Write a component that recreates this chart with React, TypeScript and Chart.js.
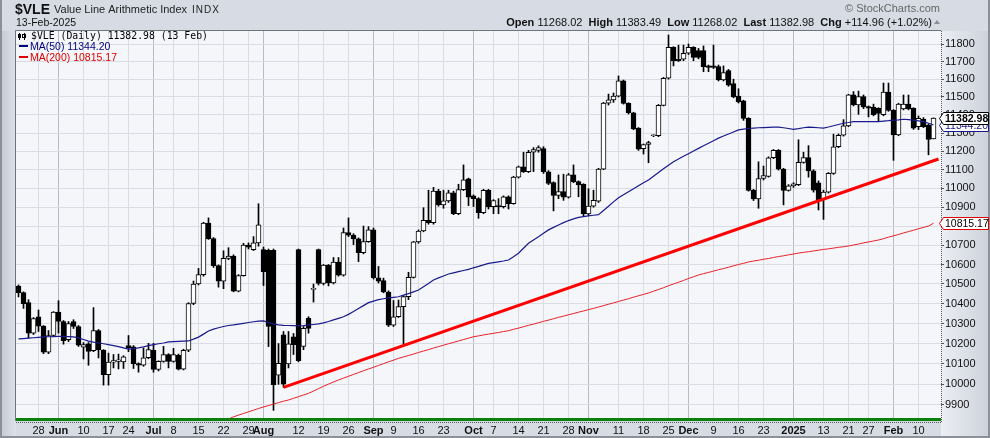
import React, { useEffect, useRef } from 'react';
import { Chart, registerables } from 'chart.js';

Chart.register(...registerables);

// ---------- calendar / categories ----------
const START_DATE = '2024-05-21';
const END_DATE = '2025-02-13';
const HOLIDAYS = ['2024-05-27', '2024-06-19', '2024-07-04', '2024-09-02', '2024-11-28', '2024-12-25', '2025-01-01', '2025-01-09', '2025-01-20'];

const TICK_DATES = ['2024-05-28', '2024-06-03', '2024-06-10', '2024-06-17', '2024-06-24', '2024-07-01', '2024-07-08', '2024-07-15', '2024-07-22', '2024-07-29', '2024-08-01', '2024-08-12', '2024-08-19', '2024-08-26', '2024-09-03', '2024-09-09', '2024-09-16', '2024-09-23', '2024-10-01', '2024-10-07', '2024-10-14', '2024-10-21', '2024-10-28', '2024-11-01', '2024-11-11', '2024-11-18', '2024-11-25', '2024-12-02', '2024-12-09', '2024-12-16', '2024-12-23', '2025-01-02', '2025-01-13', '2025-01-21', '2025-01-27', '2025-02-03', '2025-02-10'];
const TICK_TEXT = ['28', 'Jun', '10', '17', '24', 'Jul', '8', '15', '22', '29', 'Aug', '12', '19', '26', 'Sep', '9', '16', '23', 'Oct', '7', '14', '21', '28', 'Nov', '11', '18', '25', 'Dec', '9', '16', '23', '2025', '13', '21', '27', 'Feb', '10'];
const BOLD_TICKS = ['Jun', 'Jul', 'Aug', 'Sep', 'Oct', 'Nov', 'Dec', '2025', 'Feb'];

const Y_TICKS = [9900, 10000, 10100, 10200, 10300, 10400, 10500, 10600, 10700, 10800, 10900, 11000, 11100, 11200, 11300, 11400, 11500, 11600, 11700, 11800];
const Y_MIN = 9823;
const Y_MAX = 11875;

// ---------- OHLC ----------
const OPEN = [10489, 10456, 10405, 10252, 10334, 10287, 10158, 10240, 10357, 10310, 10220, 10310, 10285, 10182, 10199, 10165, 10265, 10168, 10047, 10108, 10112, 10110, 10190, 10184, 10101, 10093, 10130, 10167, 10072, 10112, 10145, 10112, 10142, 10074, 10167, 10401, 10500, 10548, 10816, 10734, 10594, 10514, 10632, 10644, 10464, 10543, 10701, 10677, 10712, 10677, 10673, 10673, 10045, 10244, 10100, 10233, 10677, 10186, 10326, 10472, 10677, 10503, 10597, 10505, 10612, 10545, 10766, 10752, 10733, 10661, 10719, 10780, 10532, 10517, 10459, 10292, 10334, 10385, 10436, 10534, 10717, 10774, 10830, 10818, 10986, 10912, 10933, 10976, 10866, 10993, 11051, 10960, 10945, 10870, 10990, 10902, 10908, 10903, 10955, 10918, 11060, 11116, 11090, 11195, 11205, 11215, 11089, 11031, 10962, 10983, 10953, 11072, 11036, 11021, 10864, 10905, 10931, 11103, 11466, 11484, 11505, 11590, 11464, 11412, 11327, 11215, 11237, 11285, 11285, 11453, 11605, 11781, 11713, 11713, 11747, 11781, 11762, 11762, 11675, 11675, 11671, 11596, 11648, 11575, 11505, 11478, 11381, 10989, 10943, 11053, 11064, 11165, 11205, 11103, 10989, 11013, 11020, 11140, 11166, 11094, 11030, 10940, 10980, 11080, 11225, 11288, 11339, 11512, 11456, 11502, 11446, 11444, 11437, 11401, 11528, 11425, 11290, 11433, 11460, 11437, 11335, 11376, 11344, 11268.02];
const HIGH = [10495, 10460, 10420, 10330, 10368, 10290, 10265, 10360, 10415, 10315, 10310, 10319, 10290, 10205, 10205, 10380, 10270, 10170, 10153, 10146, 10148, 10140, 10240, 10190, 10105, 10178, 10201, 10201, 10115, 10186, 10150, 10176, 10148, 10172, 10405, 10515, 10580, 10820, 10843, 10740, 10598, 10671, 10687, 10650, 10548, 10710, 10712, 10745, 10918, 10690, 10680, 10680, 10200, 10260, 10260, 10250, 10680, 10285, 10334, 10500, 10680, 10600, 10600, 10636, 10636, 10790, 10843, 10760, 10738, 10800, 10797, 10790, 10590, 10530, 10465, 10416, 10418, 10440, 10560, 10720, 10780, 10897, 10990, 11005, 10995, 10990, 10990, 10985, 11022, 11126, 11055, 10965, 10950, 10995, 10995, 10940, 10945, 10960, 10960, 11065, 11120, 11195, 11205, 11220, 11230, 11225, 11095, 11035, 11072, 11076, 11080, 11126, 11040, 11025, 10998, 10990, 11108, 11470, 11516, 11522, 11618, 11595, 11468, 11415, 11330, 11240, 11255, 11290, 11458, 11610, 11852, 11785, 11794, 11794, 11800, 11785, 11775, 11789, 11680, 11794, 11680, 11675, 11655, 11600, 11546, 11482, 11385, 10995, 11143, 11120, 11170, 11210, 11210, 11108, 11020, 11030, 11263, 11195, 11231, 11100, 11040, 10990, 11085, 11294, 11295, 11374, 11515, 11530, 11533, 11511, 11450, 11460, 11440, 11578, 11578, 11430, 11465, 11511, 11511, 11440, 11394, 11385, 11350, 11383.49];
const LOW = [10434, 10376, 10228, 10245, 10260, 10150, 10150, 10235, 10252, 10197, 10210, 10275, 10186, 10124, 10093, 10160, 10129, 9996, 9996, 10080, 10075, 10077, 10160, 10077, 10059, 10088, 10125, 10059, 10065, 10108, 10080, 10108, 10070, 10070, 10160, 10395, 10495, 10540, 10730, 10585, 10484, 10476, 10625, 10460, 10460, 10540, 10680, 10672, 10695, 10492, 10185, 9874, 10000, 9985, 10080, 10146, 10110, 10170, 10252, 10408, 10495, 10495, 10490, 10500, 10540, 10540, 10745, 10703, 10615, 10655, 10715, 10525, 10505, 10455, 10285, 10285, 10330, 10196, 10420, 10530, 10710, 10770, 10810, 10810, 10905, 10894, 10925, 10860, 10860, 10988, 10908, 10903, 10841, 10865, 10890, 10865, 10865, 10895, 10890, 10915, 11055, 11085, 11085, 11090, 11195, 11080, 11020, 10880, 10945, 10936, 10948, 11030, 10955, 10855, 10855, 10900, 10925, 11100, 11455, 11470, 11500, 11460, 11405, 11318, 11205, 11185, 11138, 11280, 11280, 11450, 11600, 11675, 11700, 11705, 11740, 11704, 11715, 11642, 11642, 11660, 11590, 11590, 11560, 11495, 11466, 11370, 10985, 10935, 10894, 11045, 11060, 11160, 11098, 10912, 10985, 11005, 11015, 11135, 11060, 10980, 10885, 10835, 10975, 11075, 11220, 11283, 11335, 11450, 11403, 11435, 11389, 11395, 11364, 11395, 11420, 11151, 11285, 11428, 11428, 11320, 11319, 11330, 11181, 11268.02];
const CLOSE = [10456, 10400, 10252, 10325, 10287, 10158, 10240, 10357, 10310, 10215, 10300, 10285, 10192, 10195, 10161, 10265, 10168, 10047, 10108, 10116, 10120, 10134, 10180, 10101, 10093, 10130, 10170, 10072, 10112, 10145, 10112, 10145, 10074, 10167, 10401, 10500, 10548, 10816, 10734, 10594, 10514, 10632, 10644, 10464, 10543, 10701, 10690, 10712, 10806, 10563, 10285, 9998, 10102, 10000, 10199, 10195, 10116, 10276, 10276, 10478, 10503, 10597, 10505, 10612, 10545, 10766, 10752, 10733, 10661, 10719, 10780, 10532, 10514, 10459, 10292, 10334, 10385, 10436, 10534, 10717, 10774, 10830, 10818, 10986, 10912, 10933, 10976, 10866, 10993, 11046, 10953, 10945, 10870, 10990, 10902, 10935, 10903, 10955, 10918, 11060, 11116, 11090, 11195, 11210, 11220, 11089, 11026, 10962, 10983, 10953, 11072, 11036, 11018, 10864, 10905, 10936, 11103, 11466, 11484, 11505, 11590, 11464, 11412, 11323, 11212, 11237, 11248, 11285, 11453, 11605, 11781, 11705, 11705, 11747, 11781, 11724, 11724, 11671, 11667, 11667, 11596, 11637, 11566, 11500, 11473, 11381, 10989, 10943, 11053, 11069, 11165, 11205, 11103, 10989, 11013, 11024, 11140, 11166, 11094, 10990, 10940, 10980, 11080, 11225, 11288, 11339, 11512, 11456, 11502, 11444, 11437, 11401, 11409, 11528, 11425, 11290, 11460, 11460, 11433, 11327, 11381, 11335, 11265, 11382.98];

// ---------- moving averages ----------
const MA50 = [10223, 10225, 10227, 10229, 10231, 10233, 10234, 10235, 10236, 10236, 10235, 10233, 10228, 10220, 10212, 10207, 10203, 10199, 10195, 10190, 10185, 10179, 10173, 10175, 10179, 10184, 10190, 10195, 10199, 10203, 10208, 10210, 10211, 10212, 10213, 10222, 10232, 10247, 10263, 10272, 10279, 10285, 10290, 10293, 10297, 10301, 10305, 10309, 10312, 10313, 10305, 10298, 10293, 10291, 10290, 10289, 10288, 10289, 10292, 10295, 10298, 10303, 10310, 10318, 10326, 10334, 10346, 10360, 10375, 10390, 10405, 10413, 10420, 10425, 10429, 10432, 10435, 10443, 10451, 10460, 10469, 10486, 10503, 10520, 10531, 10541, 10551, 10557, 10563, 10569, 10575, 10583, 10590, 10598, 10606, 10610, 10614, 10618, 10623, 10640, 10658, 10684, 10710, 10727, 10744, 10762, 10780, 10793, 10806, 10818, 10829, 10838, 10846, 10850, 10854, 10857, 10860, 10882, 10905, 10928, 10950, 10966, 10982, 10998, 11014, 11030, 11045, 11065, 11085, 11105, 11124, 11143, 11158, 11173, 11187, 11202, 11216, 11230, 11244, 11258, 11272, 11284, 11295, 11306, 11317, 11321, 11325, 11327, 11329, 11330, 11331, 11332, 11333, 11329, 11325, 11320, 11324, 11329, 11333, 11331, 11329, 11327, 11333, 11340, 11347, 11354, 11358, 11363, 11363, 11363, 11363, 11363, 11363, 11366, 11368, 11371, 11373, 11376, 11374, 11371, 11367, 11363, 11354, 11344.20];
const MA200 = [null, null, null, null, null, null, null, null, null, null, null, null, null, null, null, null, null, null, null, null, null, null, null, null, null, null, null, null, null, null, null, null, null, null, null, null, null, null, null, null, null, 9826, 9833, 9843, 9851, 9859, 9867, 9875, 9883, 9890, 9897, 9904, 9911, 9918, 9924, 9932, 9940, 9948, 9956, 9967, 9979, 9990, 10001, 10011, 10021, 10030, 10039, 10048, 10057, 10066, 10075, 10083, 10092, 10101, 10110, 10118, 10127, 10134, 10141, 10148, 10156, 10163, 10170, 10178, 10185, 10192, 10199, 10206, 10213, 10220, 10227, 10234, 10238, 10243, 10247, 10251, 10255, 10260, 10264, 10271, 10277, 10284, 10291, 10297, 10304, 10311, 10317, 10324, 10331, 10337, 10344, 10350, 10357, 10363, 10370, 10376, 10383, 10390, 10397, 10404, 10411, 10418, 10425, 10433, 10440, 10447, 10454, 10463, 10472, 10481, 10491, 10500, 10509, 10518, 10528, 10537, 10546, 10553, 10559, 10566, 10573, 10579, 10586, 10593, 10600, 10606, 10613, 10618, 10622, 10627, 10631, 10636, 10641, 10645, 10650, 10654, 10659, 10663, 10666, 10670, 10674, 10678, 10681, 10685, 10689, 10692, 10696, 10701, 10706, 10712, 10717, 10722, 10727, 10734, 10742, 10749, 10756, 10764, 10771, 10778, 10786, 10793, 10800, 10815.17];

// trend line anchors: [category index, value]
const TREND_POINTS = [[53, 9985], [184, 11158]];

const LAST = 11382.98;
const LAST_MA50 = 11344.20;
const LAST_MA200 = 10815.17;

const SANS = '"Liberation Sans", Arial, sans-serif';

function tradingDays(): string[] {
  const out: string[] = [];
  const d = new Date(START_DATE + 'T00:00:00Z');
  const end = new Date(END_DATE + 'T00:00:00Z');
  while (d <= end) {
    const dow = d.getUTCDay();
    const iso = d.toISOString().slice(0, 10);
    if (dow !== 0 && dow !== 6 && !HOLIDAYS.includes(iso)) out.push(iso);
    d.setUTCDate(d.getUTCDate() + 1);
  }
  return out;
}

function drawTag(ctx: CanvasRenderingContext2D, xr: number, y: number, text: string, stroke: string, textColor: string, bold: boolean) {
  const x0 = xr - 1.5, x1 = xr + 2.5, x2 = 988.5, h = 12;
  const yy = Math.round(y) + 0.5;
  ctx.save();
  ctx.beginPath();
  ctx.moveTo(x0, yy);
  ctx.lineTo(x1, yy - h / 2);
  ctx.lineTo(x2, yy - h / 2);
  ctx.lineTo(x2, yy + h / 2);
  ctx.lineTo(x1, yy + h / 2);
  ctx.closePath();
  ctx.fillStyle = '#ffffff';
  ctx.fill();
  ctx.strokeStyle = stroke;
  ctx.lineWidth = 1;
  ctx.stroke();
  ctx.fillStyle = textColor;
  ctx.font = (bold ? 'bold ' : '') + '10.5px ' + SANS;
  ctx.textAlign = 'left';
  ctx.textBaseline = 'middle';
  ctx.fillText(text, x1 + 1.5, yy + 0.5);
  ctx.restore();
}

const decorPlugin = {
  id: 'decor',
  beforeDraw(chart: any) {
    const { ctx, chartArea: a, width, height } = chart;
    ctx.save();
    ctx.fillStyle = '#d7dbe4';
    ctx.fillRect(0, 0, width, height);
    const g = ctx.createLinearGradient(a.right, 0, width, 0);
    g.addColorStop(0, '#eceef3');
    g.addColorStop(1, '#ccd1da');
    ctx.fillStyle = g;
    ctx.fillRect(a.right, a.top, width - a.right, height - a.top);
    const g2 = ctx.createLinearGradient(0, 0, a.left, 0);
    g2.addColorStop(0, '#c4c9d3');
    g2.addColorStop(1, '#dde1e8');
    ctx.fillStyle = g2;
    ctx.fillRect(0, a.top, a.left, height - a.top);
    ctx.fillStyle = '#f4f6fa';
    ctx.fillRect(a.left, a.top, a.right - a.left, a.bottom - a.top);
    ctx.restore();
  },
  afterDraw(chart: any) {
    const { ctx, chartArea: a, width, height } = chart;
    const y = chart.scales.y;
    ctx.save();
    ctx.strokeStyle = '#6f737c';
    ctx.lineWidth = 1;
    ctx.beginPath();
    ctx.moveTo(a.left - 0.5, a.bottom);
    ctx.lineTo(a.left - 0.5, a.top - 0.5);
    ctx.lineTo(a.right, a.top - 0.5);
    ctx.stroke();
    ctx.setLineDash([1, 1]);
    ctx.strokeStyle = '#555a63';
    ctx.beginPath();
    ctx.moveTo(a.right + 0.5, a.top);
    ctx.lineTo(a.right + 0.5, a.bottom + 2);
    ctx.stroke();
    ctx.beginPath();
    ctx.moveTo(a.left, a.bottom + 1.5);
    ctx.lineTo(a.right, a.bottom + 1.5);
    ctx.stroke();
    ctx.setLineDash([]);
    ctx.fillStyle = '#0b800b';
    ctx.fillRect(a.left, a.bottom - 3, a.right - a.left, 3);
    ctx.fillStyle = '#8b9099';
    ctx.fillRect(0, 0, 2, height);
    ctx.fillRect(width - 2, 0, 2, height);
    ctx.fillRect(0, height - 2, width, 2);

    // header
    ctx.fillStyle = '#111';
    ctx.textBaseline = 'alphabetic';
    ctx.textAlign = 'left';
    ctx.font = 'bold 14px ' + SANS;
    ctx.fillText('$VLE', 15, 14);
    ctx.font = '11px ' + SANS;
    ctx.fillStyle = '#222';
    ctx.fillText('Value Line Arithmetic Index', 54, 13);
    ctx.font = '10px ' + SANS;
    let ix = 192;
    for (const ch of 'INDX') { ctx.fillText(ch, ix, 13); ix += ctx.measureText(ch).width + 1; }
    ctx.font = '10.5px ' + SANS;
    ctx.fillStyle = '#111';
    ctx.fillText('13-Feb-2025', 16, 26);

    ctx.textAlign = 'right';
    ctx.font = '11px ' + SANS;
    ctx.fillStyle = '#666';
    ctx.fillText('\u00a9 StockCharts.com', 940, 12);

    const parts: [string, boolean][] = [
      ['Open', true], [' 11268.02  ', false], ['High', true], [' 11383.49  ', false], ['Low', true], [' 11268.02  ', false],
      ['Last', true], [' 11382.98  ', false], ['Chg', true], [' +114.96 (+1.02%)', false],
    ];
    let total = 0;
    for (const [t, b] of parts) { ctx.font = (b ? 'bold ' : '') + '11px ' + SANS; total += ctx.measureText(t).width; }
    let x = 932 - total;
    ctx.textAlign = 'left';
    ctx.fillStyle = '#111';
    for (const [t, b] of parts) { ctx.font = (b ? 'bold ' : '') + '11px ' + SANS; ctx.fillText(t, x, 26); x += ctx.measureText(t).width; }
    ctx.fillStyle = '#8a8f98';
    ctx.beginPath();
    ctx.moveTo(934, 24); ctx.lineTo(940, 24); ctx.lineTo(937, 20); ctx.closePath(); ctx.fill();

    // legend inside plot
    ctx.fillStyle = '#000';
    ctx.fillRect(19, 33, 1, 7);
    ctx.fillRect(18, 34, 3, 4);
    ctx.fillRect(24, 33, 1, 7);
    ctx.strokeStyle = '#000';
    ctx.strokeRect(22.5, 34.5, 3, 3);
    ctx.font = '9.8px "DejaVu Sans Mono", monospace';
    ctx.fillStyle = '#000';
    ctx.fillText('$VLE (Daily) 11382.98 (13 Feb)', 31, 39);
    ctx.font = '10.5px ' + SANS;
    ctx.fillStyle = '#00007f';
    ctx.fillRect(19, 45, 9, 2);
    ctx.fillText('MA(50) 11344.20', 30, 50);
    ctx.fillStyle = '#e00000';
    ctx.fillRect(19, 56, 9, 2);
    ctx.fillText('MA(200) 10815.17', 30, 61);
    ctx.restore();

    drawTag(ctx, a.right, y.getPixelForValue(LAST_MA50), '11344.20', '#1a1a8c', '#1a1a8c', false);
    drawTag(ctx, a.right, y.getPixelForValue(LAST), '11382.98', '#000', '#000', true);
    drawTag(ctx, a.right, y.getPixelForValue(LAST_MA200), '10815.17', '#e00000', '#000', false);
  },
};

export default function App() {
  const ref = useRef<HTMLCanvasElement | null>(null);
  useEffect(() => {
    const canvas = ref.current;
    if (!canvas) return;
    const dates = tradingDays();
    const labels = [...dates, ''];
    const tickIdx = TICK_DATES.map((d) => dates.indexOf(d));
    const textByIdx: Record<number, string> = {};
    tickIdx.forEach((ix, k) => { textByIdx[ix] = TICK_TEXT[k]; });

    const bodies = OPEN.map((o, i) => [Math.min(o, CLOSE[i]), Math.max(o, CLOSE[i])]);
    const bodyFill = OPEN.map((o, i) => (CLOSE[i] >= o ? '#ffffff' : '#000000'));
    const wicks = HIGH.map((h, i) => [LOW[i], h]);
    const trend: (number | null)[] = labels.map(() => null);
    TREND_POINTS.forEach(([i, v]) => { trend[i] = v; });

    const chart = new Chart(canvas, {
      type: 'bar',
      data: {
        labels,
        datasets: [
          { type: 'line', data: trend, borderColor: '#ff0000', borderWidth: 3, pointRadius: 0, spanGaps: true, tension: 0 } as any,
          { type: 'line', data: MA50, borderColor: '#1a1a8c', borderWidth: 1.2, pointRadius: 0, tension: 0 } as any,
          { type: 'line', data: MA200, borderColor: '#e8202a', borderWidth: 1, pointRadius: 0, tension: 0 } as any,
          { type: 'bar', data: bodies, backgroundColor: bodyFill, borderColor: '#000', borderWidth: 1, borderSkipped: false, barThickness: 5, minBarLength: 1, grouped: false } as any,
          { type: 'bar', data: wicks, backgroundColor: '#000', borderWidth: 0, barThickness: 1, grouped: false } as any,
        ],
      },
      options: {
        animation: false,
        responsive: false,
        devicePixelRatio: 1,
        events: [],
        layout: { padding: { top: 31, left: 16, right: 0, bottom: 0 } },
        plugins: { legend: { display: false }, tooltip: { enabled: false }, title: { display: false } },
        scales: {
          x: {
            type: 'category',
            offset: true,
            afterBuildTicks: (s: any) => { s.ticks = tickIdx.map((v) => ({ value: v })); },
            afterFit: (s: any) => { s.height = 17; },
            ticks: {
              autoSkip: false,
              maxRotation: 0,
              minRotation: 0,
              padding: 3,
              color: '#111',
              callback: (v: any) => textByIdx[v] ?? '',
              font: (c: any) => ({ family: SANS, size: 11, weight: c.tick && BOLD_TICKS.includes(c.tick.label) ? 'bold' : 'normal' }),
            },
            grid: {
              offset: false,
              drawTicks: false,
              color: (c: any) => (c.tick && BOLD_TICKS.includes(c.tick.label) ? '#b7bbc4' : '#d9dce3'),
              lineWidth: 1,
            },
            border: { display: false },
          },
          y: {
            type: 'logarithmic',
            position: 'right',
            min: Y_MIN,
            max: Y_MAX,
            bounds: 'data',
            afterBuildTicks: (s: any) => { s.ticks = Y_TICKS.map((v) => ({ value: v })); },
            afterFit: (s: any) => { s.width = 49; },
            ticks: {
              autoSkip: false,
              padding: 1,
              color: '#111',
              font: { family: SANS, size: 11 },
              callback: (v: any) => String(v),
            },
            grid: { color: '#d9dce3', lineWidth: 1, drawTicks: true, tickLength: 3, tickColor: '#555' },
            border: { display: false },
          },
        },
      } as any,
      plugins: [decorPlugin],
    });
    return () => chart.destroy();
  }, []);

  return (
    <div style={{ position: 'absolute', left: 0, top: 0, width: 990, height: 438 }}>
      <canvas ref={ref} width={990} height={438} style={{ display: 'block', width: 990, height: 438 }} />
    </div>
  );
}
